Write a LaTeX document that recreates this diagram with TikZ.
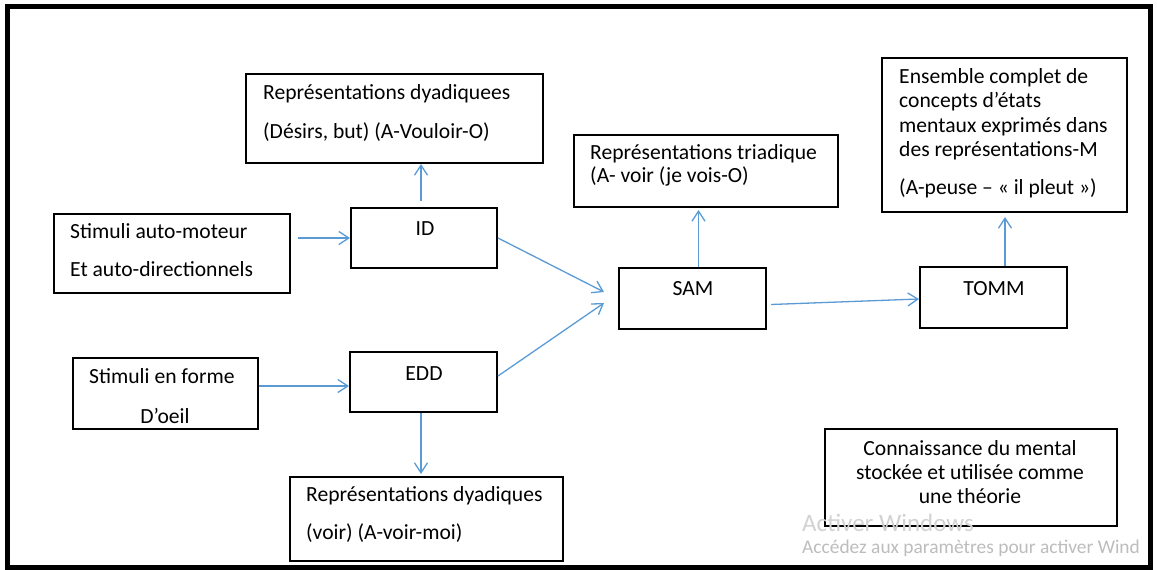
\documentclass[tikz,border=0pt]{standalone}
\usepackage{fontspec}
\setmainfont{Carlito}
\usetikzlibrary{arrows.meta,calc}
\definecolor{arrowblue}{HTML}{5B9BD5}
\definecolor{wmlight}{HTML}{D2D2D2}
\definecolor{wmdark}{HTML}{BDBDBD}
\begin{document}
\begin{tikzpicture}[x=1pt,y=-1pt,
  box/.style={draw=black,line width=2pt,inner sep=0pt},
  txt/.style={anchor=base west,inner sep=0pt,font=\fontsize{21.6}{26}\selectfont},
  ctxt/.style={anchor=base,inner sep=0pt,font=\fontsize{21.6}{26}\selectfont},
  arr/.style={draw=arrowblue,line width=1.3pt,-{Straight Barb[length=10pt,width=13pt]}},
  wmbig/.style={anchor=base west,inner sep=0pt,text=wmlight,font=\fontsize{25}{30}\selectfont},
  wmsmall/.style={anchor=base west,inner sep=0pt,text=wmdark,font=\fontsize{19.4}{24}\selectfont}]
\useasboundingbox (0,0) rectangle (1157,570);
\fill[white] (0,0) rectangle (1157,570);

% boxes
\node[box,minimum width=297pt,minimum height=89pt] (rep1) at (394.5,118.5) {};
\node[box,minimum width=236pt,minimum height=79pt] (stim1) at (172,253.5) {};
\node[box,minimum width=146pt,minimum height=60pt] (id) at (424,238) {};
\node[box,minimum width=264pt,minimum height=72pt] (tri) at (706,171) {};
\node[box,minimum width=147pt,minimum height=61pt] (sam) at (692.5,298.5) {};
\node[box,minimum width=147pt,minimum height=61pt] (tomm) at (993.5,297.5) {};
\node[box,minimum width=245pt,minimum height=154pt] (ens) at (1004.5,135) {};
\node[box,minimum width=185pt,minimum height=71pt] (stim2) at (165.5,393.5) {};
\node[box,minimum width=147pt,minimum height=60pt] (edd) at (423.5,382) {};
\node[box,minimum width=273pt,minimum height=84pt] (rep2) at (426.5,519) {};
\node[box,minimum width=292pt,minimum height=97pt] (conn) at (971,477.5) {};

% texts
\node[txt] (rep1a) at (263,99) {Représentations dyadiquees};
\node[txt] (rep1b) at (263,138) {(Désirs, but) (A-Vouloir-O)};
\node[txt] (stim1a) at (70,238) {Stimuli auto-moteur};
\node[txt] (stim1b) at (70,276) {Et auto-directionnels};
\node[ctxt] (idt) at (425,235) {ID};
\node[txt] (tria) at (590,159) {Représentations triadique};
\node[txt] (trib) at (590,182) {(A- voir (je vois-O)};
\node[ctxt] (samt) at (693,295) {SAM};
\node[ctxt] (tommt) at (994,295) {TOMM};
\node[txt] (ensa) at (899,83) {Ensemble complet de};
\node[txt] (ensb) at (899,107) {concepts d’états};
\node[txt] (ensc) at (899,132) {mentaux exprimés dans};
\node[txt] (ensd) at (899,156) {des représentations-M};
\node[txt] (ense) at (899,194) {(A-peuse – « il pleut »)};
\node[txt] (stim2a) at (89,383) {Stimuli en forme};
\node[ctxt] (stim2b) at (165,423) {D’oeil};
\node[ctxt] (eddt) at (424,380) {EDD};
\node[txt] (rep2a) at (306,501) {Représentations dyadiques};
\node[txt] (rep2b) at (306,539) {(voir) (A-voir-moi)};
\node[ctxt] (conna) at (970,455) {Connaissance du mental};
\node[ctxt] (connb) at (970,479) {stockée et utilisée comme};
\node[ctxt] (connc) at (970,503) {une théorie};

% connectors
\coordinate (idup) at ($(id.north)+(-3,-6)$);
\draw[arr] (idup) -- (idup |- rep1.south);
\coordinate (s1out) at ($(stim1.east |- id.west)+(7,0)$);
\draw[arr] (s1out) -- (id.west);
\draw[arr] (id.east) -- ($(sam.west)+(-14,-6.5)$);
\draw[arr] ($(edd.east)+(0,-6)$) -- ($(sam.west)+(-14,4.5)$);
\draw[arr] ($(sam.east)+(4,6)$) -- ($(tomm.west)+(0,1.5)$);
\coordinate (samup) at ($(sam.north)+(6,0)$);
\draw[arr,shorten >=2pt] (samup) -- (samup |- tri.south);
\coordinate (tommup) at ($(tomm.north)+(11.5,0)$);
\draw[arr,shorten >=4pt] (tommup) -- (tommup |- ens.south);
\coordinate (s2out) at ($(stim2.east)+(0,-7.5)$);
\draw[arr] (s2out) -- (s2out -| edd.west);
\coordinate (edddown) at ($(edd.south)+(-2.5,0)$);
\draw[arr,shorten >=2pt] (edddown) -- (edddown |- rep2.north);

% watermark
\node[wmbig] (wm1) at (802,531) {Activer Windows};
\node[wmsmall] (wm2) at (802,553) {Accédez aux paramètres pour activer Wind};

% outer frame
\node[draw=black,line width=5pt,minimum width=1143pt,minimum height=561pt,inner sep=0pt] (frame) at (578.5,286.5) {};
\end{tikzpicture}
\end{document}
